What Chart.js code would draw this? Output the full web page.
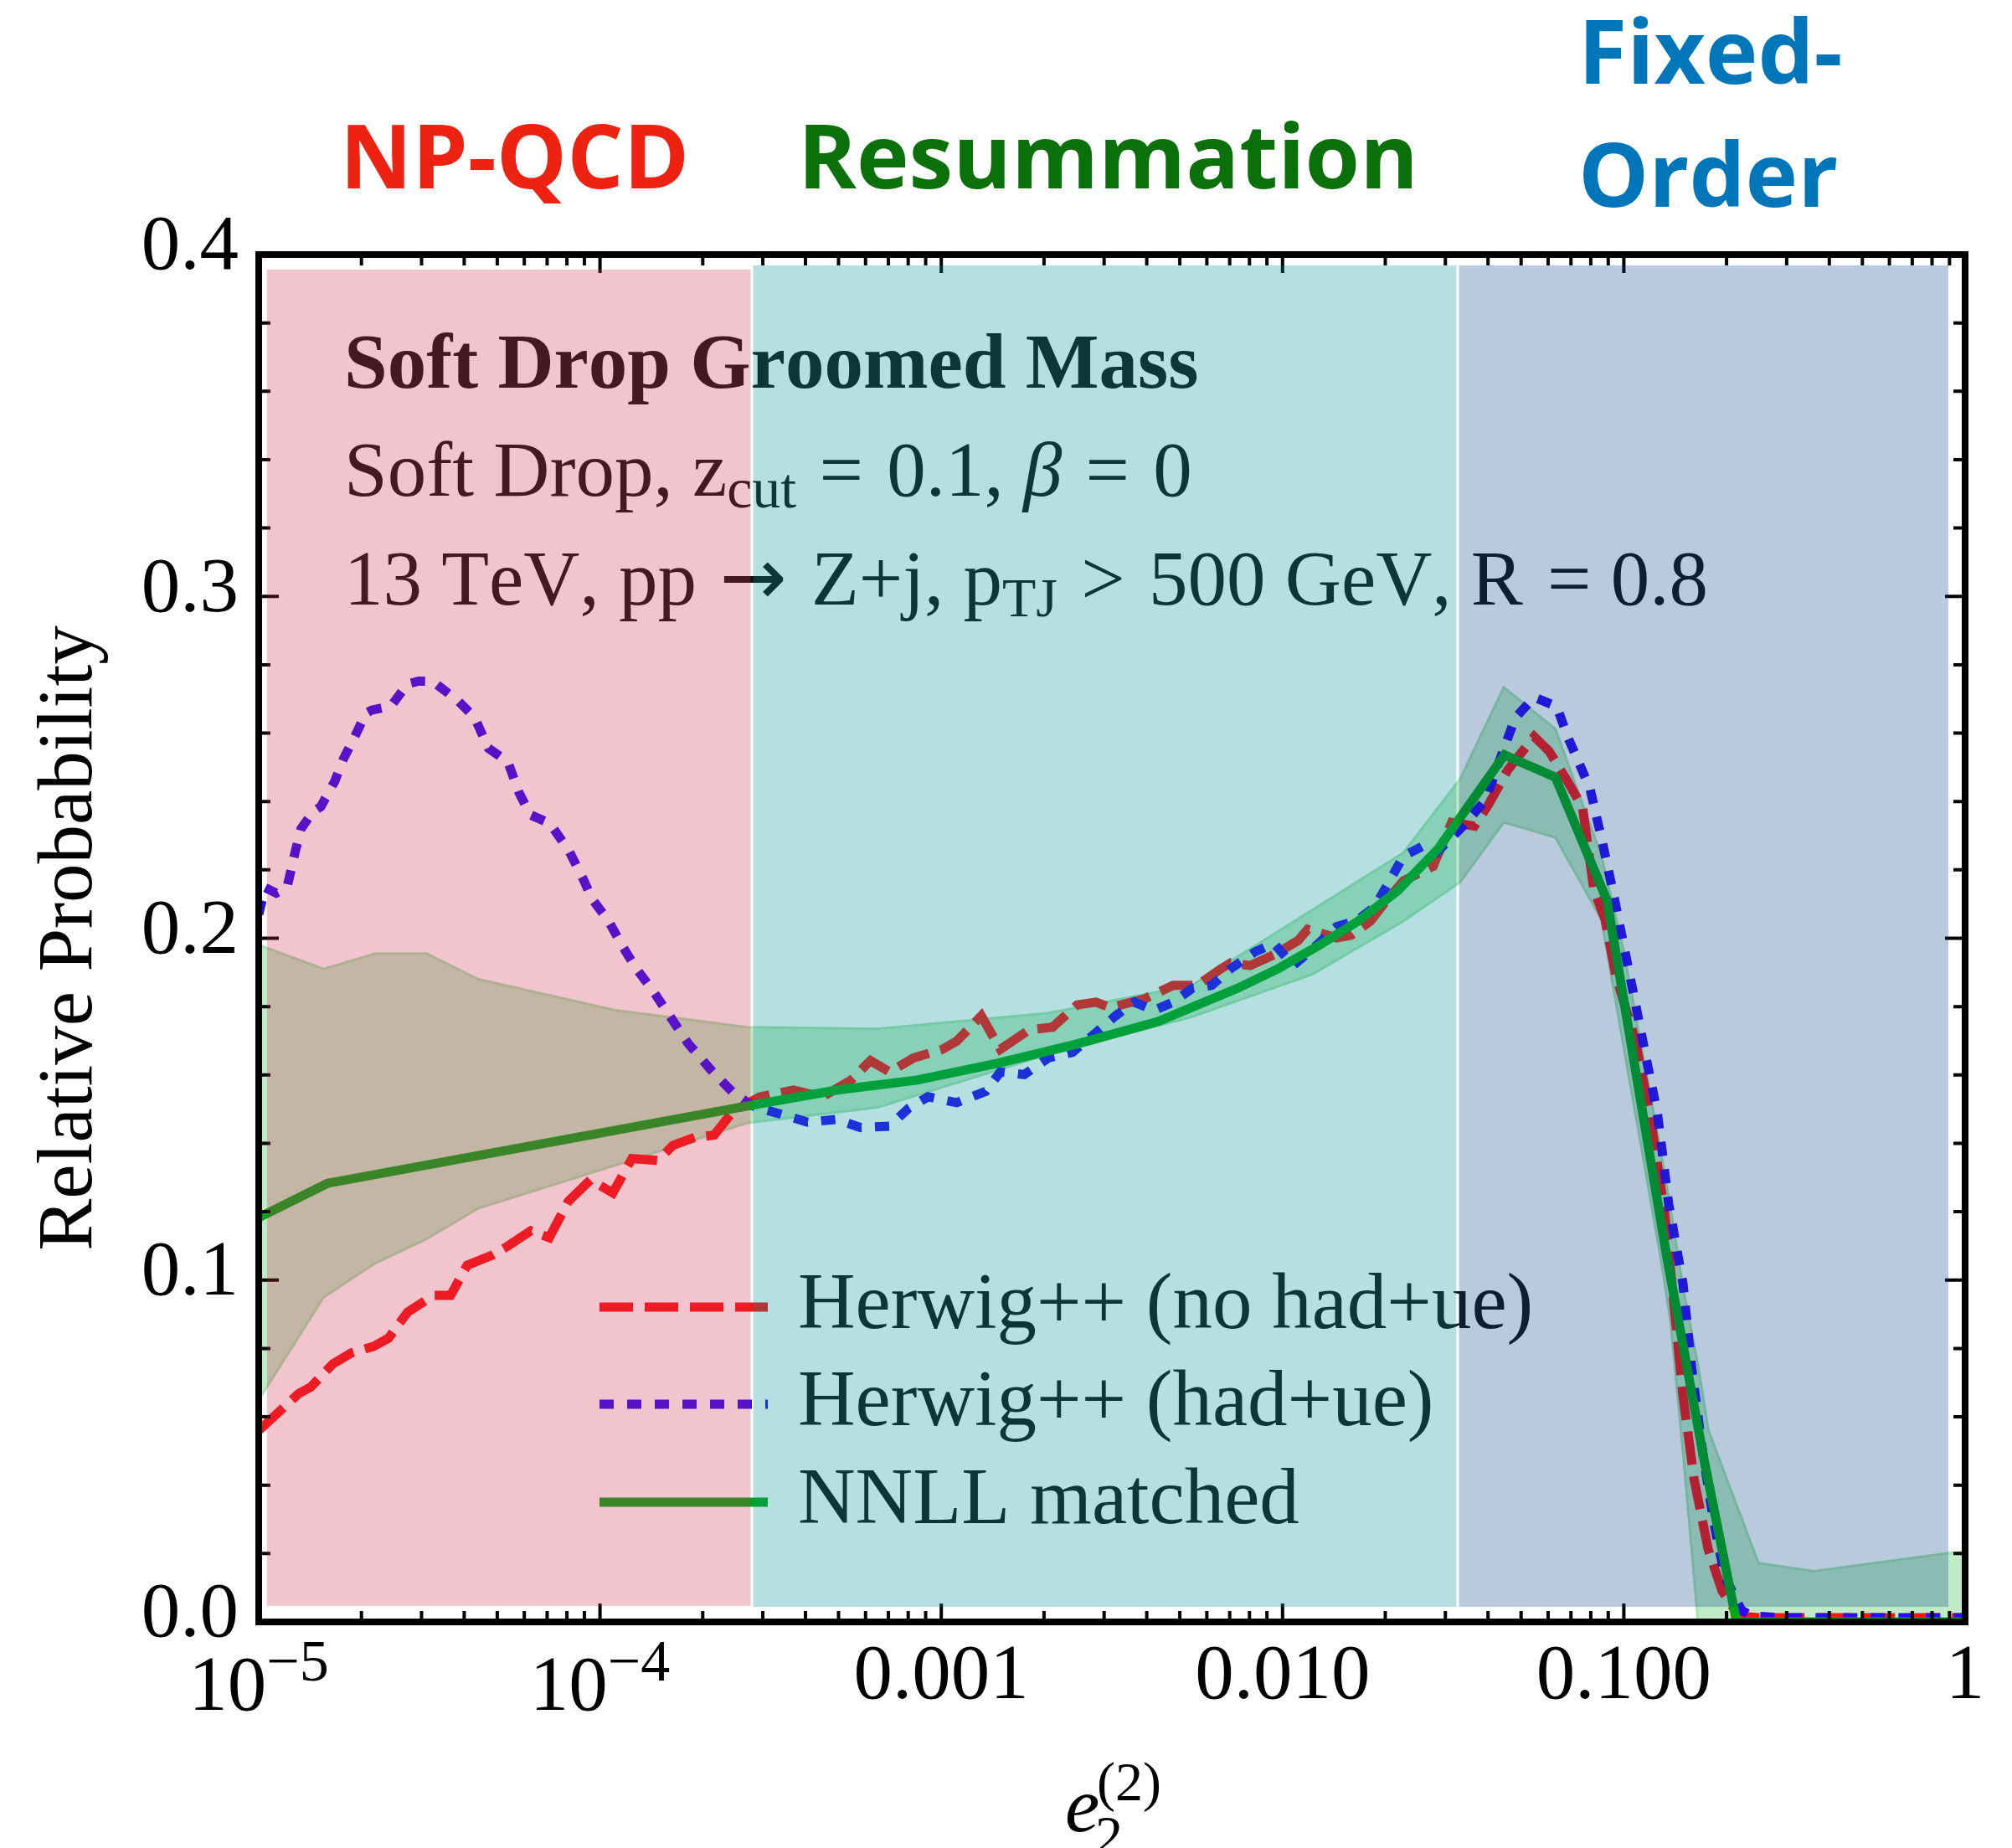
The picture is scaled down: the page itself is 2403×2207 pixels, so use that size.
<!DOCTYPE html>
<html>
<head>
<meta charset="utf-8">
<script src="https://cdn.jsdelivr.net/npm/chart.js@4/dist/chart.umd.min.js"></script>
<style>
html,body{margin:0;padding:0;background:#fff;}
canvas{display:block;}
</style>
</head>
<body>
<canvas id="c" width="2403" height="2207"></canvas>
<script>
// ---------------- data ----------------
const seriesLabels = ['Herwig++ (no had+ue)', 'Herwig++ (had+ue)', 'NNLL matched'];

const herwigNoHadX = [1.0e-5,1.31e-5,1.42e-5,1.65e-5,1.87e-5,2.17e-5,2.4e-5,2.73e-5,3.25e-5,3.65e-5,
  4.08e-5,4.86e-5,5.38e-5,6.27e-5,7.1e-5,8.07e-5,9.37e-5,1.09e-4,1.24e-4,1.48e-4,
  1.635e-4,1.9e-4,2.16e-4,2.45e-4,2.94e-4,3.69e-4,4.48e-4,5.44e-4,6.2e-4,7.05e-4,
  8.3e-4,1.007e-3,1.11e-3,1.31e-3,1.49e-3,1.81e-3,2.12e-3,2.5e-3,2.84e-3,3.13e-3,
  3.93e-3,4.78e-3,5.62e-3,6.61e-3,7.05e-3,8.04e-3,9.44e-3,0.0111,0.01185,0.0144,
  0.0159,0.0181,0.0199,0.0226,0.0276,0.0313,0.0365,0.0403,0.0457,0.0546,
  0.0604,0.0684,0.0757,0.0817,0.0881,0.0948,0.1078,0.1192,0.1318,0.141,
  0.149,0.1607,0.1766,0.194,0.217,0.25,0.5,1];
const herwigNoHadY = [0.056,0.0668,0.0687,0.0755,0.0787,0.0806,0.083,0.0906,0.0955,0.0955,
  0.1043,0.1074,0.11,0.1144,0.1124,0.123,0.1293,0.1255,0.1355,0.135,
  0.1394,0.1418,0.1424,0.1493,0.1536,0.1556,0.1536,0.1585,0.1642,0.1609,
  0.165,0.1675,0.1699,0.1773,0.1675,0.1732,0.174,0.1805,0.1813,0.1797,
  0.1822,0.1862,0.1862,0.1911,0.1928,0.192,0.1952,0.1993,0.2026,0.2001,
  0.2009,0.205,0.2103,0.2168,0.221,0.2339,0.2328,0.2394,0.2492,0.259,
  0.2547,0.2459,0.2383,0.2142,0.2055,0.189,0.1705,0.1487,0.1193,0.0907,
  0.0662,0.0417,0.0213,0.0091,0.0017,0.0012,0.0012,0.0012];

const herwigHadX = [1e-5,1.044e-5,1.125e-5,1.21e-5,1.28e-5,1.33e-5,1.44e-5,1.52e-5,1.67e-5,1.77e-5,
  1.91e-5,2.06e-5,2.14e-5,2.44e-5,2.73e-5,2.94e-5,3.23e-5,3.83e-5,4.29e-5,4.71e-5,
  5.37e-5,5.79e-5,6.25e-5,7.13e-5,8.13e-5,8.93e-5,9.46e-5,1.06e-4,1.163e-4,1.278e-4,
  1.43e-4,1.6e-4,1.81e-4,2.1e-4,2.45e-4,2.78e-4,3.03e-4,3.57e-4,4.06e-4,4.93e-4,
  5.81e-4,7.05e-4,8.03e-4,9.14e-4,1.11e-3,1.35e-3,1.49e-3,1.75e-3,2.06e-3,2.42e-3,
  2.84e-3,3.24e-3,3.68e-3,4.2e-3,4.78e-3,5.45e-3,6.2e-3,7.05e-3,8.3e-3,9.44e-3,
  0.01074,0.01225,0.0144,0.0164,0.0186,0.0206,0.0226,0.0256,0.0283,0.0338,
  0.0393,0.0446,0.0481,0.0546,0.0636,0.0684,0.0738,0.0796,0.0859,0.0927,
  0.1,0.1079,0.1162,0.1255,0.1353,0.149,0.158,0.17,0.1833,0.1977,
  0.2213,0.238,0.3,0.5,1];
const herwigHadY = [0.207,0.2148,0.2132,0.2148,0.2254,0.232,0.2369,0.2385,0.2459,0.2524,
  0.2589,0.2658,0.2667,0.2679,0.2744,0.2752,0.2752,0.2695,0.2646,0.2556,
  0.2516,0.2426,0.2361,0.2336,0.2254,0.2173,0.2116,0.205,0.1977,0.1911,
  0.1846,0.1773,0.1693,0.1618,0.1549,0.1511,0.1499,0.1479,0.1462,0.147,
  0.1446,0.145,0.1503,0.1536,0.1519,0.1552,0.1609,0.1601,0.165,0.1666,
  0.1724,0.1773,0.1813,0.1789,0.1813,0.1854,0.1862,0.1911,0.196,0.1985,
  0.192,0.1969,0.2034,0.205,0.2091,0.2168,0.224,0.2268,0.2251,0.2328,
  0.2404,0.2557,0.2645,0.2705,0.2678,0.259,0.2514,0.2437,0.2295,0.2142,
  0.1978,0.1814,0.165,0.1486,0.1223,0.099,0.0744,0.05,0.0295,0.0132,
  0.0034,0.0017,0.0012,0.0012,0.0012];

const nnllX = [1e-5,1.59e-5,2.7e-4,4.96e-4,8.5e-4,1.46e-3,2.51e-3,4.31e-3,7.4e-3,9.7e-3,
  0.0127,0.01665,0.0218,0.0286,0.0447,0.063,0.0893,0.1337,0.1706,0.214,1];
const nnllY = [0.1183,0.1283,0.1509,0.1556,0.1585,0.1634,0.1691,0.1756,0.1854,0.1911,
  0.1977,0.205,0.214,0.2262,0.2536,0.2471,0.211,0.1067,0.049,0,0];

const bandX = [1e-5,1.55e-5,2.2e-5,3.1e-5,4.4e-5,1.1e-4,2.7e-4,6.5e-4,2.05e-3,5.43e-3,
  0.01225,0.0226,0.0331,0.0445,0.063,0.086,0.1,0.128,0.137,0.149,
  0.165,0.177,0.248,0.36,0.89,1];
const bandUpper = [0.198,0.191,0.1955,0.1955,0.188,0.179,0.174,0.1735,0.1781,0.1862,
  0.2083,0.225,0.2465,0.2734,0.2612,0.224,0.196,0.138,0.121,0.098,
  0.075,0.056,0.0172,0.0148,0.0201,0.0205];
const bandLower = [0.065,0.095,0.105,0.112,0.121,0.1335,0.146,0.1505,0.166,0.177,
  0.1895,0.205,0.2164,0.2339,0.2295,0.2055,0.168,0.107,0.088,0.05,
  0,0,0,0,0,0];

const yTickValues = [0, 0.1, 0.2, 0.3, 0.4];
const yTickLabels = ['0.0', '0.1', '0.2', '0.3', '0.4'];
const yMinorValues = [0.02,0.04,0.06,0.08,0.12,0.14,0.16,0.18,0.22,0.24,0.26,0.28,0.32,0.34,0.36,0.38];
const xTickValues = [1e-5, 1e-4, 1e-3, 1e-2, 1e-1, 1];
const xTickLabels = ['10^-5', '10^-4', '0.001', '0.010', '0.100', '1'];
const xMinorMultipliers = [2,3,4,5,6,7,8,9];

const regionNames = ['NP-QCD', 'Resummation', 'Fixed-Order'];
const regionXFrom = [1.058e-5, 2.81e-4, 0.0329];
const regionXTo   = [2.763e-4, 0.0323, 0.893];
const regionYFrom = [0.0047, 0.0044, 0.0044];
const regionYTo   = [0.3956, 0.3968, 0.3968];

// ---------------- drawing ----------------
const SERIF = "'Liberation Serif', 'Times New Roman', serif";
const SANS = "'Open Sans', 'Noto Sans', sans-serif";
const ARROWFONT = "'DejaVu Sans', sans-serif";
const regionFill = ['rgba(208,44,80,0.28)', 'rgba(0,145,148,0.29)', 'rgba(5,66,130,0.28)'];
const headColors = ['#EE2211', '#0A700A', '#0076BA'];

const xy = (xs, ys) => xs.map((x, i) => ({x: x, y: ys[i]}));

function drawRuns(ctx, x, y, runs) {
  let cx = x;
  runs.forEach(r => {
    ctx.font = (r.style || '') + ' ' + (r.weight || '') + ' ' + r.size + 'px ' + (r.family || SERIF);
    cx += (r.padBefore || 0);
    ctx.fillText(r.t, cx, y + (r.dy || 0));
    cx += ctx.measureText(r.t).width + (r.pad || 0);
  });
  return cx;
}

const decor = {
  id: 'decor',
  beforeDraw(chart) {
    const ctx = chart.ctx;
    ctx.save();
    ctx.fillStyle = '#fff';
    ctx.fillRect(0, 0, chart.width, chart.height);
    ctx.restore();
  },
  afterDatasetsDraw(chart) {
    const ctx = chart.ctx, a = chart.chartArea;
    const xs = chart.scales.x, ys = chart.scales.y;
    ctx.save();
    if ('fontKerning' in ctx) ctx.fontKerning = 'none';
    // frame
    ctx.strokeStyle = '#000';
    ctx.lineWidth = 8;
    ctx.strokeRect(a.left, a.top, a.right - a.left, a.bottom - a.top);
    // ticks
    ctx.lineWidth = 4;
    ctx.beginPath();
    yTickValues.forEach(v => {
      const p = ys.getPixelForValue(v);
      ctx.moveTo(a.left, p); ctx.lineTo(a.left + 24, p);
      ctx.moveTo(a.right, p); ctx.lineTo(a.right - 24, p);
    });
    yMinorValues.forEach(v => {
      const p = ys.getPixelForValue(v);
      ctx.moveTo(a.left, p); ctx.lineTo(a.left + 14, p);
      ctx.moveTo(a.right, p); ctx.lineTo(a.right - 14, p);
    });
    xTickValues.forEach((v, i) => {
      const p = xs.getPixelForValue(v);
      ctx.moveTo(p, a.bottom); ctx.lineTo(p, a.bottom - 22);
      ctx.moveTo(p, a.top); ctx.lineTo(p, a.top + 22);
      if (i < xTickValues.length - 1) {
        xMinorMultipliers.forEach(m => {
          const q = xs.getPixelForValue(m * v);
          ctx.moveTo(q, a.bottom); ctx.lineTo(q, a.bottom - 13);
          ctx.moveTo(q, a.top); ctx.lineTo(q, a.top + 13);
        });
      }
    });
    ctx.stroke();

    // in-plot text
    ctx.fillStyle = '#111';
    ctx.textAlign = 'left';
    ctx.textBaseline = 'alphabetic';
    const tx = a.left + 102;
    drawRuns(ctx, tx, a.top + 159, [{t: 'Soft Drop Groomed Mass', size: 93, weight: 'bold'}]);
    drawRuns(ctx, tx, a.top + 288, [
      {t: 'Soft Drop, z', size: 93},
      {t: 'cut', size: 68, dy: 14},
      {t: ' = ', size: 93, padBefore: 4, pad: 5},
      {t: '0.1, ', size: 93},
      {t: '\u03B2', size: 93, style: 'italic'},
      {t: ' = ', size: 93, padBefore: 5, pad: 5},
      {t: '0', size: 93}
    ]);
    drawRuns(ctx, tx, a.top + 418, [
      {t: '13 TeV, pp ', size: 93},
      {t: '\u2192', size: 96, family: ARROWFONT, padBefore: 4, pad: 6},
      {t: ' Z+j, p', size: 93},
      {t: 'TJ', size: 66, dy: 14},
      {t: ' > ', size: 93, padBefore: 5, pad: 5},
      {t: '500 GeV, R ', size: 93},
      {t: '= 0.8', size: 93, padBefore: 6}
    ]);

    // legend
    const legendDs = [2, 3, 4];
    const rowY = [a.top + 1257, a.top + 1373, a.top + 1490];
    legendDs.forEach((di, k) => {
      const ds = chart.data.datasets[di];
      ctx.save();
      ctx.strokeStyle = ds.borderColor;
      ctx.lineWidth = ds.borderWidth;
      ctx.lineCap = 'butt';
      ctx.setLineDash(ds.borderDash || []);
      ctx.beginPath();
      ctx.moveTo(a.left + 407, rowY[k]);
      ctx.lineTo(a.left + 608, rowY[k]);
      ctx.stroke();
      ctx.restore();
      ctx.fillStyle = '#111';
      ctx.font = '95px ' + SERIF;
      ctx.textBaseline = 'middle';
      ctx.fillText(ds.label, a.left + 644, rowY[k]);
    });

    // translucent region overlays
    regionNames.forEach((n, i) => {
      const x0 = xs.getPixelForValue(regionXFrom[i]);
      const x1 = xs.getPixelForValue(regionXTo[i]);
      const y0 = ys.getPixelForValue(regionYTo[i]);
      const y1 = ys.getPixelForValue(regionYFrom[i]);
      ctx.fillStyle = regionFill[i];
      ctx.fillRect(x0, y0, x1 - x0, y1 - y0);
    });
    ctx.restore();
  },
  afterDraw(chart) {
    const ctx = chart.ctx, a = chart.chartArea;
    const xs = chart.scales.x;
    ctx.save();
    ctx.fillStyle = '#000';
    ctx.textBaseline = 'alphabetic';
    // x tick labels
    xTickValues.forEach((v, i) => {
      const px = xs.getPixelForValue(v);
      const lab = xTickLabels[i];
      if (lab.indexOf('^') >= 0) {
        const parts = lab.split('^');
        const base = parts[0], exp = parts[1].replace('-', '\u2212');
        ctx.font = '93px ' + SERIF;
        const wb = ctx.measureText(base).width;
        ctx.font = '70px ' + SERIF;
        const we = ctx.measureText(exp).width;
        const x0 = px - (wb + we) / 2;
        ctx.textAlign = 'left';
        ctx.font = '93px ' + SERIF;
        ctx.fillText(base, x0, a.bottom + 105);
        ctx.font = '70px ' + SERIF;
        ctx.fillText(exp, x0 + wb, a.bottom + 70);
      } else {
        ctx.textAlign = 'center';
        ctx.font = '93px ' + SERIF;
        ctx.fillText(lab, px, a.bottom + 91);
      }
    });
    // x axis title  e_2^(2)
    ctx.textAlign = 'left';
    const cx = (a.left + a.right) / 2;
    ctx.font = 'italic 93px ' + SERIF;
    ctx.fillText('e', cx - 56, a.bottom + 250);
    ctx.font = '66px ' + SERIF;
    ctx.fillText('2', cx - 20, a.bottom + 277);
    ctx.fillText('(2)', cx - 18, a.bottom + 213);
    // y axis title
    ctx.save();
    ctx.translate(a.left - 200, (a.top + a.bottom) / 2);
    ctx.rotate(-Math.PI / 2);
    ctx.textAlign = 'center';
    ctx.font = '93px ' + SERIF;
    ctx.fillText('Relative Probability', 0, 0);
    ctx.restore();
    // region headings
    ctx.textAlign = 'left';
    ctx.font = 'bold 106px ' + SANS;
    ctx.fillStyle = headColors[0];
    ctx.fillText(regionNames[0], 406, 225);
    ctx.fillStyle = headColors[1];
    ctx.fillText(regionNames[1], 953, 225);
    ctx.fillStyle = headColors[2];
    const fo = regionNames[2].split('-');
    ctx.fillText(fo[0] + '-', 1885, 100);
    ctx.fillText(fo[1], 1885, 247);
    ctx.restore();
  }
};

new Chart(document.getElementById('c'), {
  type: 'line',
  data: {
    datasets: [
      {label: 'NNLL band (upper)', data: xy(bandX, bandUpper), borderColor: '#A3E3AC', borderWidth: 3,
       backgroundColor: '#BFECC7', fill: '+1', pointRadius: 0, order: 5},
      {label: 'NNLL band (lower)', data: xy(bandX, bandLower), borderColor: '#A3E3AC', borderWidth: 3,
       fill: false, pointRadius: 0, order: 4},
      {label: seriesLabels[0], data: xy(herwigNoHadX, herwigNoHadY), borderColor: '#FA1414', borderWidth: 11,
       borderDash: [40, 14], fill: false, pointRadius: 0, order: 3},
      {label: seriesLabels[1], data: xy(herwigHadX, herwigHadY), borderColor: '#2A0AF8', borderWidth: 11,
       borderDash: [17, 16], fill: false, pointRadius: 0, order: 2},
      {label: seriesLabels[2], data: xy(nnllX, nnllY), borderColor: '#00A818', borderWidth: 11,
       fill: false, pointRadius: 0, order: 1}
    ]
  },
  options: {
    responsive: false,
    animation: false,
    devicePixelRatio: 1,
    layout: {padding: {left: 0, top: 304, right: 56, bottom: 0}},
    elements: {line: {tension: 0, borderCapStyle: 'butt'}, point: {radius: 0}},
    plugins: {legend: {display: false}, tooltip: {enabled: false}},
    scales: {
      x: {
        type: 'logarithmic', min: 1e-5, max: 1,
        grid: {display: false, drawTicks: false},
        border: {display: false},
        ticks: {display: false},
        afterFit: s => { s.height = 270; }
      },
      y: {
        type: 'linear', min: 0, max: 0.4,
        grid: {display: false, drawTicks: false},
        border: {display: false},
        afterBuildTicks: s => { s.ticks = yTickValues.map(v => ({value: v})); },
        ticks: {
          padding: 24, labelOffset: -7, color: '#000',
          font: {family: SERIF, size: 93},
          callback: (v, i) => yTickLabels[i]
        },
        afterFit: s => { s.width = 309; }
      }
    }
  },
  plugins: [decor]
});
</script>
</body>
</html>
